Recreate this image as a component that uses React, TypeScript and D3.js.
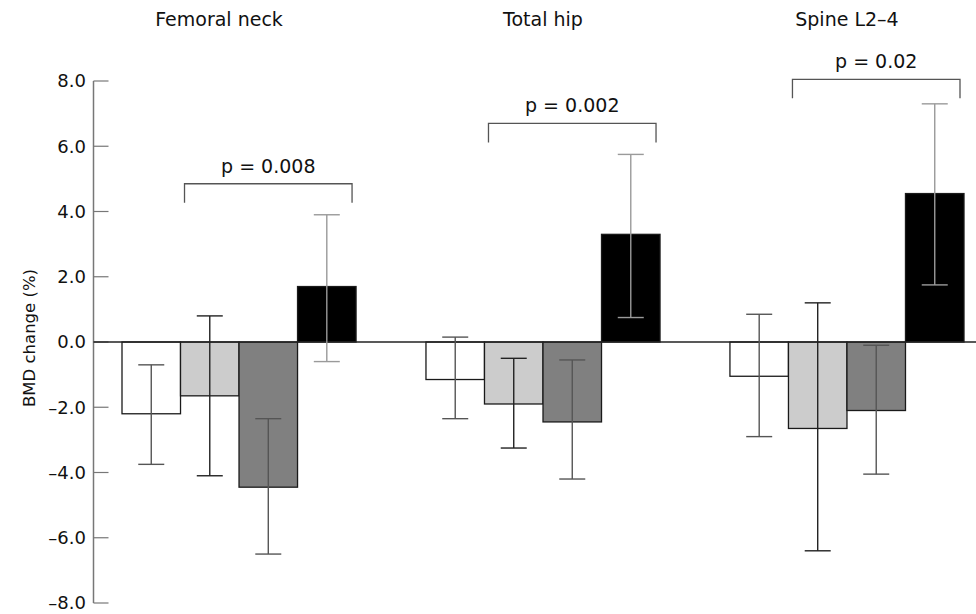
import React from 'react';
import * as d3 from 'd3';

const groups = ['Femoral neck', 'Total hip', 'Spine L2–4'];
const series = ['s1', 's2', 's3', 's4'];
const fills = ['#ffffff', '#cccccc', '#808080', '#000000'];

// mean BMD change (%) per group, one array per series
const means = [
  [-2.2, -1.15, -1.05],
  [-1.65, -1.9, -2.65],
  [-4.45, -2.45, -2.1],
  [1.7, 3.3, 4.55],
];
// error bar ends (upper, lower)
const upper = [
  [-0.7, 0.15, 0.85],
  [0.8, -0.5, 1.2],
  [-2.35, -0.55, -0.1],
  [3.9, 5.75, 7.3],
];
const lower = [
  [-3.75, -2.35, -2.9],
  [-4.1, -3.25, -6.4],
  [-6.5, -4.2, -4.05],
  [-0.6, 0.75, 1.75],
];

const pLabels = ['p = 0.008', 'p = 0.002', 'p = 0.02'];
const pLevels = [4.85, 6.7, 8.05];
const yTicks = [8, 6, 4, 2, 0, -2, -4, -6, -8];

const width = 976;
const height = 614;
const font = "'DejaVu Sans', sans-serif";

const App = () => {
  const y = d3.scaleLinear().domain([-8, 8]).range([603, 81]);
  const x0 = d3.scaleBand().domain(groups).range([122, 964]).paddingInner(0.23).paddingOuter(0);
  const x1 = d3.scaleBand().domain(series).range([0, x0.bandwidth()]).padding(0);
  const axisX = 93.5;
  const capHalf = 13;
  const fmt = (v: number) => (v < 0 ? '–' + Math.abs(v).toFixed(1) : v.toFixed(1));

  return (
    <svg width={width} height={height} style={{ position: 'absolute', left: 0, top: 0 }} fontFamily={font}>
      <rect width={width} height={height} fill="#fff" />

      {/* group titles */}
      {groups.map((g) => (
        <text key={g} x={(x0(g) as number) + x0.bandwidth() / 2 - (g === 'Femoral neck' ? 20 : 0)} y={26}
          textAnchor="middle" fontSize={19} fill="#111">{g}</text>
      ))}

      {/* y axis */}
      <line x1={axisX} x2={axisX} y1={y(8)} y2={y(-8)} stroke="#777" strokeWidth={1.5} />
      {yTicks.map((t) => (
        <g key={t}>
          <line x1={axisX} x2={axisX + 15} y1={y(t)} y2={y(t)} stroke="#777" strokeWidth={1.2} />
          <text x={86} y={y(t)} dy="0.35em" textAnchor="end" fontSize={18} fill="#111">{fmt(t)}</text>
        </g>
      ))}
      <text transform={`translate(35,${y(0) - 4}) rotate(-90)`} textAnchor="middle" fontSize={16.5} fill="#111">
        BMD change (%)
      </text>

      {/* bars */}
      {series.map((s, si) =>
        groups.map((g, gi) => {
          const v = means[si][gi];
          const bx = (x0(g) as number) + (x1(s) as number);
          return (
            <rect key={s + g} x={bx} width={x1.bandwidth()} y={y(Math.max(0, v))}
              height={Math.abs(y(v) - y(0))} fill={fills[si]} stroke="#1a1a1a" strokeWidth={1.3} />
          );
        })
      )}

      {/* zero line */}
      <line x1={axisX} x2={width} y1={y(0)} y2={y(0)} stroke="#222" strokeWidth={1.3} />

      {/* error bars */}
      {series.map((s, si) =>
        groups.map((g, gi) => {
          const cx = (x0(g) as number) + (x1(s) as number) + x1.bandwidth() / 2;
          const col = si === 3 ? '#9a9a9a' : si === 1 ? '#222' : '#555';
          return (
            <g key={'e' + s + g} stroke={col} strokeWidth={1.4}>
              <line x1={cx} x2={cx} y1={y(upper[si][gi])} y2={y(lower[si][gi])} />
              <line x1={cx - capHalf} x2={cx + capHalf} y1={y(upper[si][gi])} y2={y(upper[si][gi])} />
              <line x1={cx - capHalf} x2={cx + capHalf} y1={y(lower[si][gi])} y2={y(lower[si][gi])} />
            </g>
          );
        })
      )}

      {/* significance brackets */}
      {groups.map((g, gi) => {
        const left = (x0(g) as number) + (x1('s2') as number) + 4;
        const right = (x0(g) as number) + (x1('s4') as number) + x1.bandwidth() - 4;
        const top = y(pLevels[gi]);
        return (
          <g key={'b' + g}>
            <path d={`M${left},${top + 19}V${top}H${right}V${top + 19}`} fill="none" stroke="#555" strokeWidth={1.3} />
            <text x={(left + right) / 2} y={top - 11} textAnchor="middle" fontSize={19} fill="#111">{pLabels[gi]}</text>
          </g>
        );
      })}
    </svg>
  );
};

export default App;
